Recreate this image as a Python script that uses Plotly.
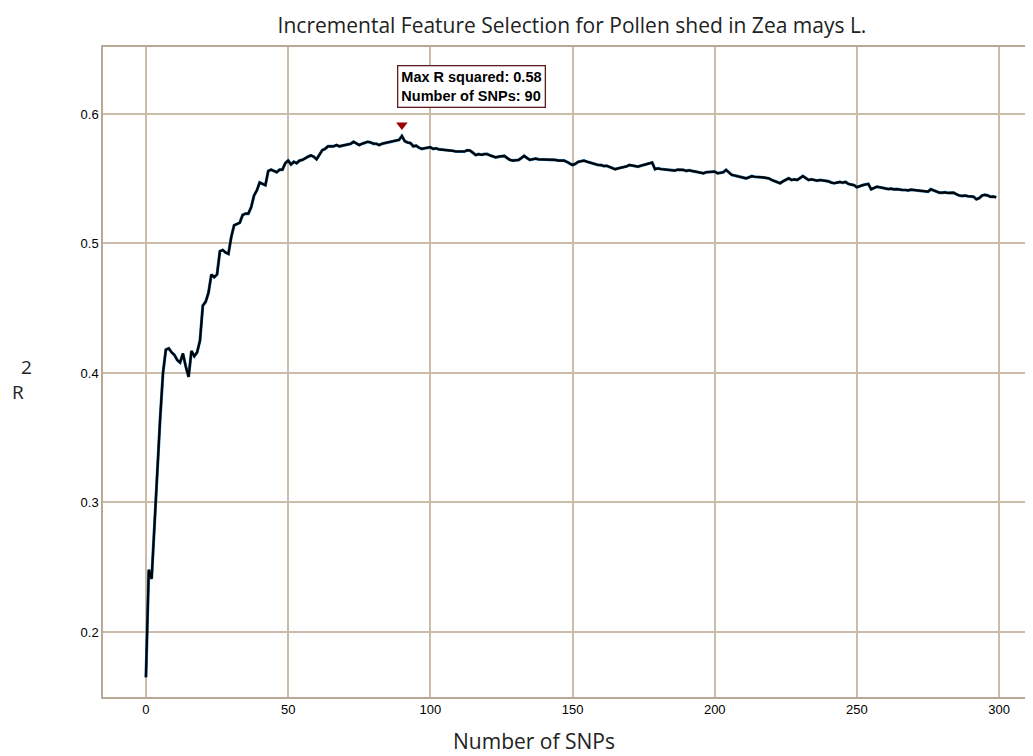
import plotly.graph_objects as go

# Number of SNPs (0..299)
snps = list(range(300))

r_squared = [
    0.165, 0.248, 0.241, 0.283, 0.330, 0.365, 0.400, 0.418, 0.419, 0.416,
    0.414, 0.410, 0.408, 0.415, 0.405, 0.397, 0.417, 0.413, 0.416, 0.425,
    0.452, 0.455, 0.462, 0.476, 0.474, 0.476, 0.494, 0.495, 0.493, 0.492,
    0.505, 0.514, 0.515, 0.516, 0.522, 0.523, 0.523, 0.528, 0.537, 0.541,
    0.547, 0.546, 0.545, 0.556, 0.557, 0.556, 0.555, 0.557, 0.557, 0.562,
    0.564, 0.561, 0.563, 0.562, 0.564, 0.5645, 0.566, 0.567, 0.568, 0.567,
    0.565, 0.569, 0.572, 0.573, 0.575, 0.575, 0.575, 0.576, 0.575, 0.5755,
    0.576, 0.576, 0.577, 0.5785, 0.577, 0.576, 0.577, 0.578, 0.5785, 0.578,
    0.577, 0.577, 0.576, 0.577, 0.5775, 0.578, 0.578, 0.5785, 0.5795, 0.580,
    0.583, 0.579, 0.578, 0.5775, 0.575, 0.5755, 0.574, 0.573, 0.5735, 0.574,
    0.5743, 0.573, 0.5735, 0.5727, 0.5725, 0.572, 0.5717, 0.572, 0.5715, 0.571,
    0.571, 0.5715, 0.571, 0.572, 0.5717, 0.570, 0.5683, 0.569, 0.5685, 0.569,
    0.569, 0.568, 0.567, 0.5665, 0.567, 0.5672, 0.5676, 0.566, 0.5645, 0.564,
    0.5645, 0.5645, 0.566, 0.5676, 0.566, 0.5645, 0.565, 0.5655, 0.565, 0.565,
    0.5648, 0.5645, 0.565, 0.5645, 0.5645, 0.564, 0.5642, 0.564, 0.563, 0.562,
    0.5606, 0.5615, 0.563, 0.5635, 0.564, 0.5632, 0.5625, 0.562, 0.561, 0.5606,
    0.5605, 0.5598, 0.560, 0.559, 0.558, 0.5573, 0.558, 0.5585, 0.5588, 0.5595,
    0.5606, 0.560, 0.5595, 0.5593, 0.560, 0.5606, 0.561, 0.5615, 0.5624, 0.5573,
    0.558, 0.5575, 0.5573, 0.557, 0.557, 0.5565, 0.5563, 0.557, 0.5568, 0.5568,
    0.556, 0.5565, 0.556, 0.5555, 0.555, 0.5548, 0.5542, 0.555, 0.5552, 0.555,
    0.5555, 0.5542, 0.5545, 0.555, 0.5568, 0.5545, 0.5529, 0.5525, 0.552, 0.5515,
    0.5512, 0.5503, 0.551, 0.552, 0.5515, 0.5516, 0.5512, 0.551, 0.5505, 0.5503,
    0.549, 0.548, 0.5475, 0.5465, 0.548, 0.549, 0.5503, 0.549, 0.5495, 0.549,
    0.5505, 0.552, 0.5505, 0.549, 0.5495, 0.549, 0.5485, 0.549, 0.5488, 0.5485,
    0.548, 0.547, 0.5465, 0.547, 0.5475, 0.547, 0.5475, 0.546, 0.5455, 0.545,
    0.5434, 0.5445, 0.545, 0.5455, 0.546, 0.5418, 0.543, 0.5438, 0.5434, 0.543,
    0.5425, 0.542, 0.5423, 0.5418, 0.542, 0.5415, 0.5413, 0.5413, 0.541, 0.5415,
    0.5413, 0.541, 0.5405, 0.5402, 0.540, 0.540, 0.5418, 0.541, 0.540, 0.5392,
    0.5392, 0.5395, 0.539, 0.5393, 0.5392, 0.538, 0.537, 0.5367, 0.537, 0.5365,
    0.5362, 0.5361, 0.5341, 0.535, 0.537, 0.5375, 0.537, 0.536, 0.5362, 0.5357,
]

x_ticks = [0, 50, 100, 150, 200, 250, 300]
y_ticks = [0.2, 0.3, 0.4, 0.5, 0.6]

best_i = max(range(len(r_squared)), key=lambda i: r_squared[i])
best_x = snps[best_i]
best_y = r_squared[best_i]

# page body has an 8px margin; size the figure so the plot lands where it should
OFF = 8
W, H = 1033 - OFF, 756 - OFF
ML, MR, MT, MB = 103 - OFF, 2, 47 - OFF, 59
PW, PH = W - ML - MR, H - MT - MB


def px_x(px):
    return (px - OFF - ML) / PW


def px_y(py):
    return 1 - (py - OFF - MT) / PH


grid_color = "#cbbcaa"

fig = go.Figure()
fig.add_trace(go.Scatter(x=snps, y=r_squared, mode="lines",
                         line=dict(color="#1f77b4", width=3.0), hoverinfo="skip",
                         showlegend=False))
fig.add_trace(go.Scatter(x=snps, y=r_squared, mode="lines",
                         line=dict(color="#000000", width=2.2), showlegend=False))
fig.add_trace(go.Scatter(x=[best_x], y=[best_y + 0.0085], mode="markers",
                         marker=dict(symbol="triangle-down", size=10, color="#9b0000"),
                         showlegend=False))

fig.add_annotation(x=best_x, y=best_y + 0.0215, xref="x", yref="y",
                   text="<b>Max R squared: %.2f<br>Number of SNPs: %d</b>" % (best_y, best_x),
                   showarrow=False, xanchor="left", yanchor="bottom", align="left",
                   xshift=-5, bgcolor="white", bordercolor="#5a1e1e", borderwidth=1.3,
                   borderpad=3,
                   font=dict(family="Liberation Sans", size=14.5, color="#000"))

fig.add_annotation(x=px_x(26), y=px_y(367), xref="paper", yref="paper",
                   text="2", showarrow=False, xanchor="center", yanchor="middle",
                   font=dict(family="Open Sans", size=19, color="#222"))
fig.add_annotation(x=px_x(18), y=px_y(392), xref="paper", yref="paper",
                   text="R", showarrow=False, xanchor="center", yanchor="middle",
                   font=dict(family="Open Sans", size=19, color="#222"))
fig.add_annotation(x=px_x(535), y=px_y(741), xref="paper", yref="paper",
                   text="Number of SNPs", showarrow=False, xanchor="center", yanchor="middle",
                   font=dict(family="Open Sans", size=21, color="#222"))

fig.update_layout(
    width=W, height=H,
    margin=dict(l=ML, r=MR, t=MT, b=MB),
    paper_bgcolor="white", plot_bgcolor="white",
    title=dict(text="Incremental Feature Selection for Pollen shed in Zea mays L.",
               x=(572 - OFF) / W, xref="container", xanchor="center",
               y=1 - (26 - OFF) / H, yref="container", yanchor="middle",
               font=dict(family="Open Sans", size=21, color="#222")),
    xaxis=dict(range=[-15.1, 310.5], tickvals=x_ticks, showgrid=True,
               gridcolor=grid_color, gridwidth=1.5, showline=True, linecolor="#b9a895",
               linewidth=1.5, mirror=True, zeroline=False, ticks="",
               tickfont=dict(family="Liberation Sans", size=13, color="#000")),
    yaxis=dict(range=[0.1498, 0.6517], tickvals=y_ticks, showgrid=True,
               gridcolor=grid_color, gridwidth=1.5, showline=True, linecolor="#b9a895",
               linewidth=1.5, mirror=True, zeroline=False, ticks="",
               tickformat=".1f",
               tickfont=dict(family="Liberation Sans", size=13, color="#000")),
)

fig.write_html("out.html")
